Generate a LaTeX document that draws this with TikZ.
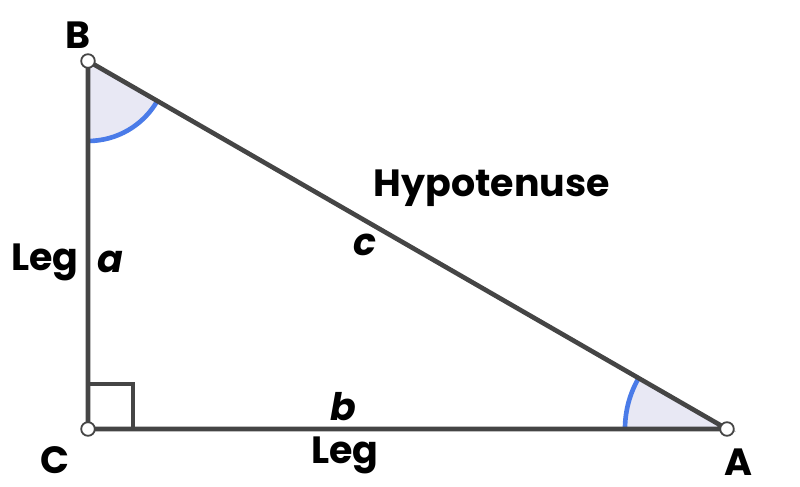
\documentclass[tikz,border=0pt]{standalone}
\usepackage{fontspec}
\setmainfont{Poppins}
\definecolor{edge}{HTML}{454545}
\definecolor{arcblue}{HTML}{4A7BE8}
\definecolor{arcfill}{HTML}{E8E8F4}
\tikzset{
  side/.style={edge, line width=3.3pt, line cap=round},
  vertex/.style={circle, draw=edge, fill=white, line width=1.3pt, inner sep=0pt, minimum size=0.34cm},
  lbl/.style={font=\fontsize{27}{32}\selectfont\bfseries, text=black, inner sep=0pt},
  mlbl/.style={font=\fontsize{27}{32}\selectfont\bfseries\itshape, text=black, inner sep=0pt}
}
\begin{document}
\begin{tikzpicture}
\useasboundingbox (0,0) rectangle (20,12.15);

% corners
\coordinate (B) at (2.2,10.625);
\coordinate (C) at (2.2,1.425);
\coordinate (A) at (18.175,1.425);

% angle marks
\fill[arcfill] (B) -- ++(270:2) arc (270:330.13:2) -- cycle;
\draw[arcblue, line width=3.3pt] (B) ++(270:2) arc (270:330.13:2);
\fill[arcfill] (A) -- ++(180:2.55) arc (180:150.13:2.55) -- cycle;
\draw[arcblue, line width=3.3pt] (A) ++(180:2.55) arc (180:150.13:2.55);

% right angle
\draw[edge, line width=2.8pt] (2.2,2.55) -- (3.325,2.55) -- (3.325,1.425);

\draw[side] (B) -- (C) -- (A) -- cycle;

\node[vertex] (vB) at (B) {};
\node[vertex] (vC) at (C) {};
\node[vertex] (vA) at (A) {};

% labels
\node[lbl] (nB) at (1.95,11.275) {B};
\node[lbl] (nC) at (1.375,0.65) {C};
\node[lbl] (nA) at (18.45,0.6) {A};
\node[lbl] (hyp) at (12.3,7.45) {Hypotenuse};
\node[mlbl] (c) at (9.125,6.025) {c};
\node[lbl] (legA) at (1.125,5.6) {Leg};
\node[mlbl] (a) at (2.75,5.6) {a};
\node[mlbl] (b) at (8.575,1.975) {b};
\node[lbl] (legB) at (8.625,0.775) {Leg};
\end{tikzpicture}
\end{document}
